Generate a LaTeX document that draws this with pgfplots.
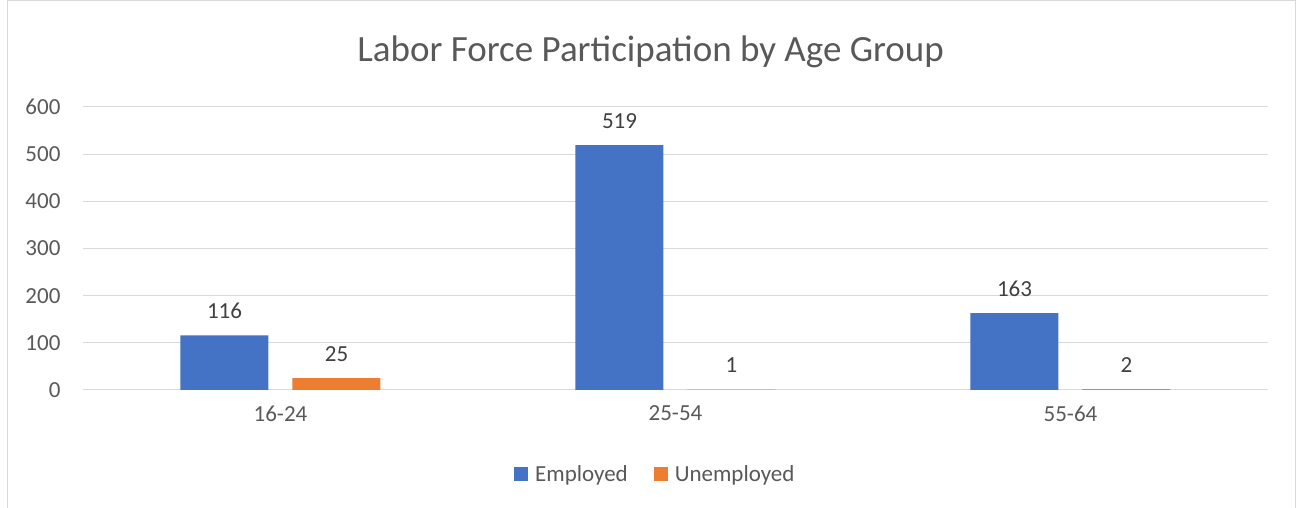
\documentclass[border=0pt]{standalone}
\usepackage{pgfplots}
\pgfplotsset{compat=1.18}
\usepackage{fontspec}
\setmainfont{Carlito}
\definecolor{cblue}{HTML}{4472C4}
\definecolor{corange}{HTML}{ED7D31}
\definecolor{ctext}{HTML}{595959}
\definecolor{clabel}{HTML}{404040}
\definecolor{cgrid}{HTML}{D9D9D9}
\begin{document}
\begin{tikzpicture}[x=1pt,y=1pt]
\useasboundingbox (0,0) rectangle (1297,508);
\draw[cgrid, line width=1pt] (7,-5) -- (7,507.5) -- (1295,507.5) -- (1295,-5);
\begin{axis}[
  at={(83pt,118pt)}, anchor=south west,
  scale only axis, width=1185pt, height=283pt,
  ymin=0, ymax=600, ytick={0,100,...,600},
  xmin=-0.5, xmax=2.5, xtick={0,1,2},
  xticklabels={16-24,25-54,55-64},
  /pgf/number format/assume math mode=true,
  ybar, bar width=88pt,
  axis line style={draw=none},
  axis x line*=bottom,
  ymajorgrids, grid style={cgrid, line width=1pt},
  major tick length=0pt,
  tick label style={font=\fontsize{23}{27}\selectfont, text=ctext},
  yticklabel style={xshift=-19pt},
  xticklabel style={yshift=-12pt},
  nodes near coords,
  every node near coord/.append style={font=\fontsize{23}{27}\selectfont, text=clabel, yshift=13pt},
  title={Labor Force Participation by Age Group},
  title style={font=\fontsize{37}{44}\selectfont, text=ctext, at={(0.479,1)}, anchor=base, yshift=39pt},
  legend style={at={(0.483,-0.297)}, anchor=center, draw=none, font=\fontsize{23}{27}\selectfont, text=ctext, legend columns=2, /tikz/every even column/.append style={column sep=24pt}, /tikz/every odd column/.append style={column sep=5pt}},
  legend image code/.code={\fill[#1] (0pt,-7pt) rectangle (14pt,7pt);},
  clip=false,
]
\addplot[fill=cblue, draw=none, bar shift=-56pt] coordinates {(0,116) (1,519) (2,163)};
\addplot[fill=corange, draw=none, bar shift=56pt] coordinates {(0,25) (1,1) (2,2)};
\legend{Employed,Unemployed}
\end{axis}
\end{tikzpicture}
\end{document}
